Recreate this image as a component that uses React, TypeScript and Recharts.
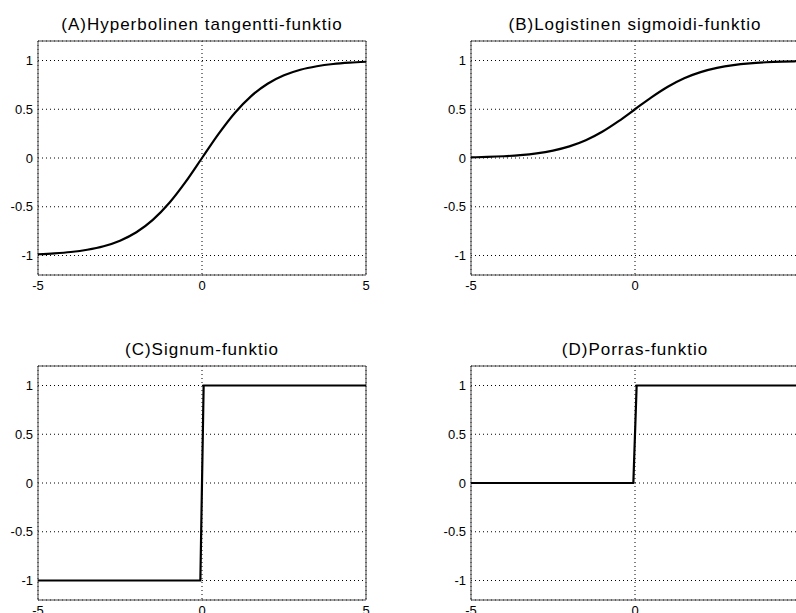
import React from 'react'
import {
  LineChart,
  Line,
  XAxis,
  YAxis,
  CartesianGrid,
  ReferenceArea,
} from 'recharts'

// x samples for the smooth curves
const xSmooth = [
  -5, -4.5, -4, -3.5, -3, -2.5, -2, -1.5, -1, -0.5, 0, 0.5, 1, 1.5, 2, 2.5, 3, 3.5, 4, 4.5, 5,
]
const tanhValues = [
  -0.987, -0.978, -0.964, -0.941, -0.905, -0.848, -0.762, -0.635, -0.462, -0.245, 0, 0.245,
  0.462, 0.635, 0.762, 0.848, 0.905, 0.941, 0.964, 0.978, 0.987,
]
const sigmoidValues = [
  0.007, 0.011, 0.018, 0.029, 0.047, 0.076, 0.119, 0.182, 0.269, 0.378, 0.5, 0.622, 0.731,
  0.818, 0.881, 0.924, 0.953, 0.971, 0.982, 0.989, 0.993,
]

// step functions
const xStep = [-5, -0.05, 0.05, 5]
const signumValues = [-1, -1, 1, 1]
const porrasValues = [0, 0, 1, 1]

const xTicksFull = [-5, 0, 5]
// right-hand panels are cut off by the page edge, the "5" label is not visible
const xTicksCut = [-5, 0]
const yTicks = [-1, -0.5, 0, 0.5, 1]

const FONT = '"Liberation Sans", Arial, Helvetica, sans-serif'

type Row = { x: number; y: number }

const zip = (xs: number[], ys: number[]): Row[] => xs.map((x, i) => ({ x, y: ys[i] }))

interface PanelProps {
  title: string
  data: Row[]
  left: number
  top: number
  curve: 'monotone' | 'linear'
  xTicks: number[]
}

function Panel({ title, data, left, top, curve, xTicks }: PanelProps) {
  return (
    <div style={{ position: 'absolute', left, top, width: 400, height: 300 }}>
      <div
        style={{
          position: 'absolute',
          left: 38,
          top: 16,
          width: 328,
          textAlign: 'center',
          fontFamily: FONT,
          fontSize: 17,
          letterSpacing: 1,
          lineHeight: '18px',
          color: '#000',
          whiteSpace: 'nowrap',
        }}
      >
        {title}
      </div>
      <LineChart
        width={400}
        height={300}
        data={data}
        margin={{ top: 41, right: 34, bottom: 5, left: 8 }}
      >
        <CartesianGrid stroke="#000" strokeDasharray="1 3" />
        <XAxis
          dataKey="x"
          type="number"
          domain={[-5, 5]}
          ticks={xTicks}
          axisLine={false}
          tickLine={false}
          tickSize={6}
          tickMargin={0}
          height={20}
          tick={{ fontSize: 13, fill: '#000', fontFamily: FONT }}
        />
        <YAxis
          type="number"
          domain={[-1.2, 1.2]}
          ticks={yTicks}
          axisLine={false}
          tickLine={false}
          tickSize={5}
          tickMargin={0}
          width={30}
          tick={{ fontSize: 13, fill: '#000', fontFamily: FONT }}
        />
        <ReferenceArea
          x1={-5}
          x2={5}
          y1={-1.2}
          y2={1.2}
          fill="none"
          stroke="#444"
          strokeWidth={1}
          ifOverflow="visible"
        />
        <Line
          dataKey="y"
          type={curve}
          stroke="#000"
          strokeWidth={2.2}
          dot={false}
          isAnimationActive={false}
        />
      </LineChart>
    </div>
  )
}

export default function App() {
  return (
    <div
      style={{
        position: 'absolute',
        left: 0,
        top: 0,
        width: 796,
        height: 613,
        overflow: 'hidden',
        background: '#fff',
      }}
    >
      <Panel
        title="(A)Hyperbolinen tangentti-funktio"
        data={zip(xSmooth, tanhValues)}
        left={0}
        top={0}
        curve="monotone"
        xTicks={xTicksFull}
      />
      <Panel
        title="(B)Logistinen sigmoidi-funktio"
        data={zip(xSmooth, sigmoidValues)}
        left={433}
        top={0}
        curve="monotone"
        xTicks={xTicksCut}
      />
      <Panel
        title="(C)Signum-funktio"
        data={zip(xStep, signumValues)}
        left={0}
        top={325}
        curve="linear"
        xTicks={xTicksFull}
      />
      <Panel
        title="(D)Porras-funktio"
        data={zip(xStep, porrasValues)}
        left={433}
        top={325}
        curve="linear"
        xTicks={xTicksCut}
      />
    </div>
  )
}
